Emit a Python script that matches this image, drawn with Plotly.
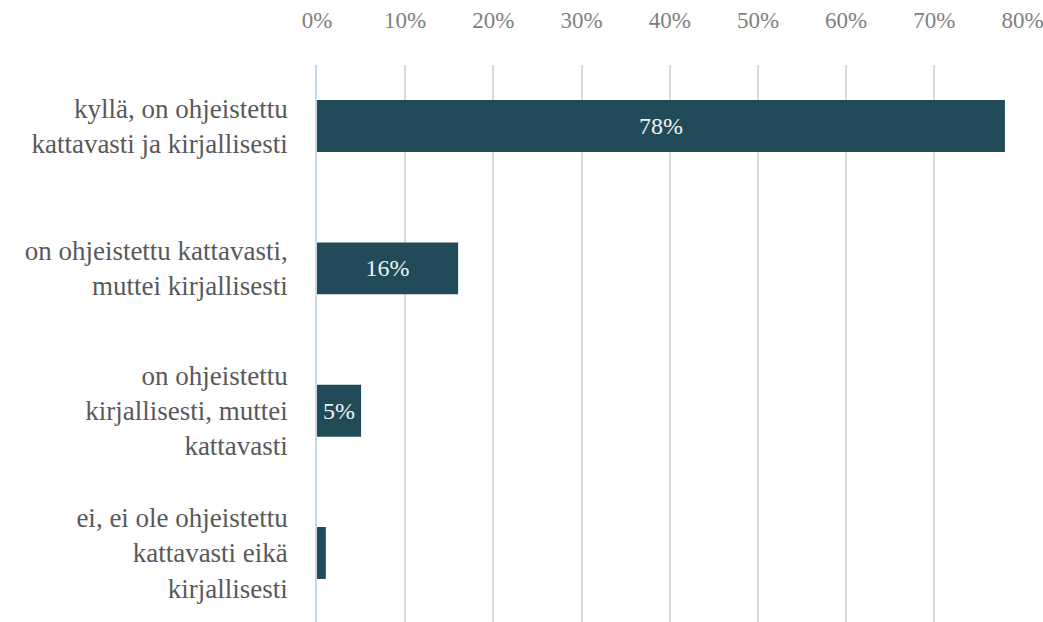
import plotly.graph_objects as go

categories = [
    "kyllä, on ohjeistettu<br>kattavasti ja kirjallisesti",
    "on ohjeistettu kattavasti,<br>muttei kirjallisesti",
    "on ohjeistettu<br>kirjallisesti, muttei<br>kattavasti",
    "ei, ei ole ohjeistettu<br>kattavasti eikä<br>kirjallisesti",
]
values = [78, 16, 5, 1]
bar_labels = ["78%", "16%", "5%", ""]
tick_vals = [0, 10, 20, 30, 40, 50, 60, 70, 80]
tick_text = ["0%", "10%", "20%", "30%", "40%", "50%", "60%", "70%", "80%"]

FONT = "Liberation Serif"

fig = go.Figure(
    go.Bar(
        y=categories,
        x=values,
        orientation="h",
        marker=dict(color="#214b58", line=dict(width=0)),
        text=bar_labels,
        textposition="inside",
        insidetextanchor="middle",
        constraintext="none",
        insidetextfont=dict(family=FONT, size=24, color="#eef3f5"),
        hoverinfo="skip",
    )
)

fig.update_layout(
    template="none",
    width=1043,
    height=622,
    margin=dict(l=317, r=20, t=65, b=0),
    paper_bgcolor="white",
    plot_bgcolor="white",
    bargap=0.635,
    showlegend=False,
)

fig.update_xaxes(
    side="top",
    range=[0, 80.05],
    tickvals=tick_vals,
    ticktext=tick_text,
    tickfont=dict(family=FONT, size=23, color="#7f7f7f"),
    ticklabeloverflow="allow",
    ticks="outside",
    ticklen=27,
    tickcolor="rgba(0,0,0,0)",
    showgrid=True,
    gridcolor="#d9d9d9",
    gridwidth=1.5,
    zeroline=False,
    showline=False,
    automargin=False,
)

fig.update_yaxes(
    type="category",
    range=[3.485, -0.429],
    tickfont=dict(family=FONT, size=27, color="#595959"),
    ticks="outside",
    ticklen=22,
    tickcolor="rgba(0,0,0,0)",
    showgrid=False,
    zeroline=False,
    showline=True,
    linecolor="#c9d8e8",
    linewidth=1.5,
    automargin=False,
)

fig.write_html(
    "out.html",
    config={"displayModeBar": False},
    post_script="document.body.style.margin='0';",
)
